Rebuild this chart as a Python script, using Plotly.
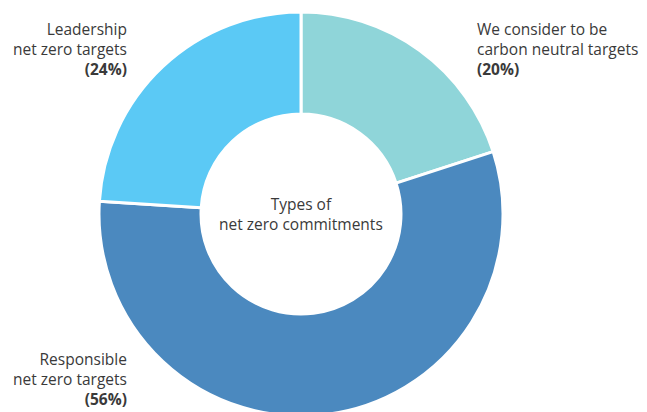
import plotly.graph_objects as go

labels = ["We consider to be carbon neutral targets", "Responsible net zero targets", "Leadership net zero targets"]
values = [20, 56, 24]
colors = ["#8fd5d9", "#4b89bf", "#5bc9f5"]
label_texts = [
    "We consider to be<br>carbon neutral targets<br><b>(20%)</b>",
    "Responsible<br>net zero targets<br><b>(56%)</b>",
    "Leadership<br>net zero targets<br><b>(24%)</b>",
]
center_text = "Types of<br>net zero commitments"

W, H = 647, 412
OFF = 8  # page body margin offset
cx, cy, r = 301 - OFF, 214 - OFF, 202

fig = go.Figure(go.Pie(
    labels=labels, values=values, sort=False, direction="clockwise", rotation=0,
    hole=0.495, textinfo="none", hoverinfo="label+percent",
    marker=dict(colors=colors, line=dict(color="white", width=3)),
    domain=dict(x=[(cx - r) / W, (cx + r) / W], y=[(H - cy - r) / H, (H - cy + r) / H]),
    showlegend=False,
))

font = dict(family="Open Sans", size=15.5, color="#3a3a3a")
# (text, x page px, vertical centre page px, anchor)
blocks = [
    (label_texts[0], 475, 48.5, "left"),
    (label_texts[1], 129, 379, "right"),
    (label_texts[2], 129, 48.5, "right"),
    (center_text, 301, 213.5, "center"),
]
anns = [dict(text=t, x=(xp - OFF) / W, y=1 - (yc - OFF) / H,
             xanchor=a, yanchor="middle", align=a,
             xref="paper", yref="paper", showarrow=False, font=font)
        for t, xp, yc, a in blocks]

fig.update_layout(
    width=W, height=H, margin=dict(l=0, r=0, t=0, b=0),
    paper_bgcolor="white", plot_bgcolor="white",
    annotations=anns,
)
fig.write_html("out.html")
